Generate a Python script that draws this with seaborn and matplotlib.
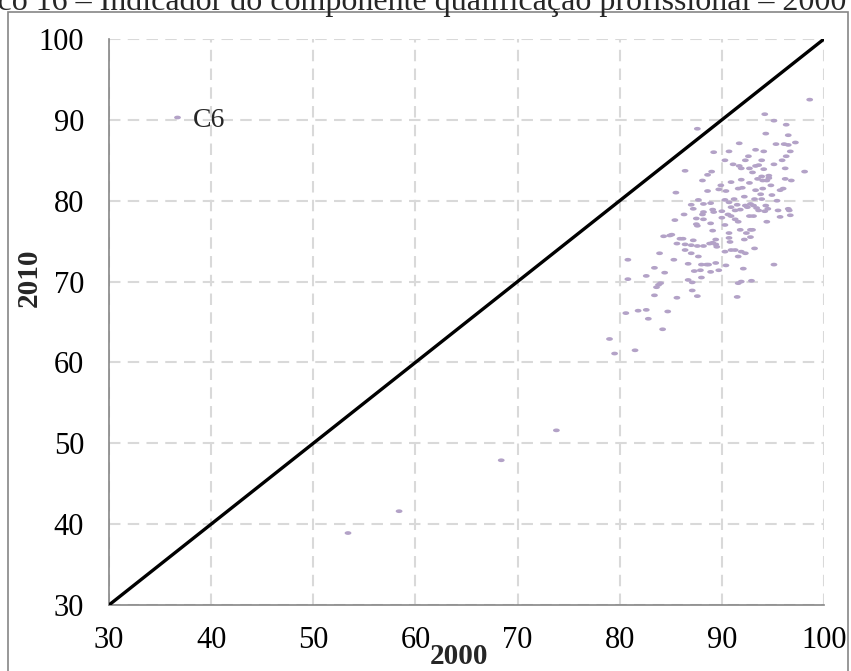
import matplotlib
matplotlib.use("Agg")
import matplotlib.pyplot as plt
import seaborn as sns
import pandas as pd
from matplotlib.path import Path
from matplotlib.patches import Rectangle
import numpy as np

# ---------------- data ----------------
title_text = "Gráfico 16 – Indicador do componente qualificação profissional – 2000 x 2010"
series_name = "C6"
x_label = "2000"
y_label = "2010"
ticks = [30, 40, 50, 60, 70, 80, 90, 100]
diag_x = [30, 100]
diag_y = [30, 100]

x2000 = [
    53.4, 58.4, 68.4, 73.8,
    87.1, 87.1, 87.6, 83.8, 84.0, 83.6, 83.4, 85.6, 91.6, 91.9, 92.9, 91.5,
    80.6, 81.8, 82.6, 82.8, 84.7, 84.2, 79.0, 79.5, 81.5,
    98.6, 94.2, 95.1, 96.3, 87.6, 94.3, 96.5, 97.2, 91.7, 95.3, 96.1, 96.5,
    93.3, 94.1, 89.2, 90.7, 96.7, 92.6, 96.3, 90.3, 92.3, 93.9, 95.9,
    91.1, 91.7, 91.9, 92.7, 93.3, 93.6, 95.1, 96.2, 86.4, 89.0, 88.6, 93.0,
    94.1, 94.6, 93.9, 98.1, 88.1, 90.9, 91.9, 92.7, 93.5, 94.0, 94.4, 94.6,
    96.2, 96.8, 89.9, 88.6, 89.7, 90.4, 91.6, 92.0, 93.3, 94.0, 94.8, 95.7,
    96.0, 85.5, 92.2, 93.8, 94.9, 87.7, 90.3, 91.2, 93.2, 93.9, 95.4,
    87.0, 88.2, 88.9, 90.7, 91.5, 92.3, 92.8, 93.1, 94.3,
    87.2, 88.2, 89.1, 90.0, 90.9, 91.3, 91.8, 92.5, 93.4, 93.6, 94.5, 95.5, 96.5, 96.6,
    86.3, 88.1, 89.2, 90.6, 90.9, 92.7, 94.2, 96.7,
    85.4, 87.5, 88.2, 90.0, 91.3, 91.6, 93.1, 94.4, 95.7,
    87.5, 87.6, 88.9, 90.3, 91.8, 92.8, 93.0, 89.1, 90.7, 92.4,
    84.3, 84.9, 85.1, 85.9, 86.2, 87.2, 89.4, 90.7, 92.2, 92.8,
    85.6, 86.4, 87.0, 87.6, 88.2, 88.8, 89.1, 89.4, 89.5, 90.8, 93.2,
    86.4, 87.0, 90.3, 90.9, 91.3, 91.9, 92.3, 91.6, 83.9, 87.7,
    80.8, 85.3, 86.7, 88.0, 88.5, 88.7, 89.4, 90.4, 92.1, 95.1,
    83.4, 82.6, 84.4, 87.3, 87.9, 88.9, 89.7, 80.8, 86.7, 88.0,
]
y2010 = [
    38.9, 41.6, 47.9, 51.6,
    69.9, 68.9, 68.2, 69.6, 69.8, 69.3, 68.3, 68.0, 69.8, 70.0, 70.1, 68.1,
    66.1, 66.4, 66.5, 65.4, 66.3, 64.1, 62.9, 61.1, 61.5,
    92.5, 90.7, 89.9, 89.4, 88.9, 88.3, 88.1, 87.2, 87.1, 87.0, 87.0, 86.9,
    86.3, 86.1, 86.0, 86.1, 86.1, 85.5, 85.5, 85.0, 85.0, 85.0, 85.0,
    84.5, 84.3, 84.0, 84.0, 84.3, 84.4, 84.5, 84.0, 83.7, 83.6, 83.2, 83.5,
    83.9, 83.1, 83.0, 83.6, 82.5, 82.3, 82.6, 82.2, 82.7, 82.5, 82.5, 82.8,
    82.7, 82.5, 81.9, 81.2, 81.4, 81.2, 81.5, 81.6, 81.3, 81.5, 81.9, 81.3,
    81.5, 81.0, 80.5, 80.8, 80.7, 80.1, 80.1, 80.2, 80.2, 80.2, 80.0,
    79.5, 79.6, 79.7, 79.8, 79.5, 79.4, 79.6, 79.4, 79.4,
    79.0, 78.6, 78.9, 78.7, 79.2, 78.8, 78.9, 79.2, 79.1, 78.8, 79.0, 78.8, 79.0, 78.8,
    78.3, 78.3, 78.6, 78.3, 78.1, 78.1, 78.7, 78.2,
    77.6, 77.8, 77.7, 77.9, 77.7, 77.4, 78.1, 77.4, 78.0,
    77.1, 76.9, 77.2, 77.0, 76.4, 76.4, 76.4, 76.3, 76.0, 76.0,
    75.6, 75.7, 75.8, 75.3, 75.3, 75.1, 75.2, 75.4, 75.2, 75.5,
    74.7, 74.6, 74.5, 74.4, 74.4, 74.7, 74.8, 74.6, 74.3, 74.9, 74.1,
    73.9, 73.5, 73.7, 73.9, 73.9, 73.7, 73.5, 73.1, 73.5, 73.1,
    72.7, 72.7, 72.2, 72.1, 72.1, 72.1, 72.3, 72.0, 71.6, 72.1,
    71.7, 70.7, 71.1, 71.3, 71.4, 71.2, 71.4, 70.3, 70.2, 70.5,
]

df = pd.DataFrame({"x": x2000, "y": y2010, "serie": series_name})

# ---------------- style ----------------
sns.set_style("white")
plt.rcParams["font.family"] = ["Liberation Serif", "DejaVu Serif"]

W, H = 851, 671
fig = plt.figure(figsize=(W / 100, H / 100), dpi=100)
ax = fig.add_axes([109 / W, 66 / H, 715 / W, 566 / H])

gray = "#868686"
grid_c = "#d9d9d9"
purple = "#b3a2c7"

# small rounded oblong marker
th = np.linspace(0, 2 * np.pi, 25)
verts = np.column_stack([np.cos(th), 0.55 * np.sin(th)])
mk = Path(verts, closed=True)

sns.lineplot(x=diag_x, y=diag_y, color="black", linewidth=2.4, ax=ax, zorder=3,
             legend=False)
sns.scatterplot(data=df, x="x", y="y", hue="serie", palette=[purple],
                marker=mk, s=24, linewidth=0, ax=ax, zorder=4)

ax.set_xlim(30, 100)
ax.set_ylim(30, 100)
ax.set_xticks(ticks)
ax.set_yticks(ticks)
ax.set_xticklabels([str(t) for t in ticks])
ax.set_yticklabels([str(t) for t in ticks])

ax.grid(True, color=grid_c, linestyle=(0, (5.5, 3.5)), linewidth=1.5, zorder=0)
ax.set_axisbelow(True)

for s in ["top", "right"]:
    ax.spines[s].set_visible(False)
for s in ["left", "bottom"]:
    ax.spines[s].set_color(gray)
    ax.spines[s].set_linewidth(1.2)

ax.tick_params(axis="both", direction="out", length=5, width=1.2, color=gray,
               labelsize=22, labelcolor="black")
ax.tick_params(axis="y", pad=13)
ax.tick_params(axis="x", pad=10)

ax.set_xlabel(x_label, fontsize=21, fontweight="bold")
ax.set_ylabel(y_label, fontsize=21, fontweight="bold")
ax.xaxis.set_label_coords(0.49, -0.068)
ax.yaxis.set_label_coords(-0.093, 0.578)

leg = ax.legend(loc="center left", bbox_to_anchor=(0.080, 0.857), frameon=False,
                fontsize=20, handlelength=0.8, handletextpad=0.15,
                borderpad=0, borderaxespad=0, markerscale=1.0)

# outer chart frame
fig.patches.append(Rectangle((8 / W, -0.05), 840 / W, (H - 12) / H + 0.05,
                             transform=fig.transFigure, fill=False,
                             edgecolor=gray, linewidth=1.2))

# partially visible title (cut at the top of the image)
renderer = fig.canvas.get_renderer()
tmp = fig.text(0, 0, "Gráfi", fontsize=23)
w_pre = tmp.get_window_extent(renderer).width
tmp.remove()
fig.text(-(w_pre + 3) / W, 1 - 10 / H, title_text, fontsize=23,
         ha="left", va="baseline")

fig.savefig("out.png", dpi=100)
